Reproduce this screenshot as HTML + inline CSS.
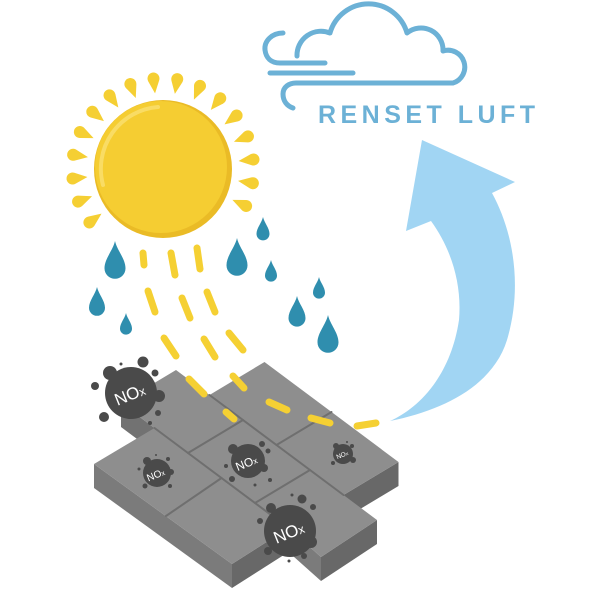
<!DOCTYPE html>
<html><head><meta charset="utf-8"><style>
html,body{margin:0;padding:0;background:#fff;}
svg{display:block;}
</style></head><body>
<svg width="600" height="600" viewBox="0 0 600 600" xmlns="http://www.w3.org/2000/svg">
<defs>
<path id="ray" d="M-11,0 L1.6,-5.5 A6,6 0 1 1 1.6,5.5 Z"/>
<path id="drop" d="M0,0 C0.1,0.45 0.5,0.85 0.5,1.3 A0.5,0.5 0 0 1 -0.5,1.3 C-0.5,0.85 -0.1,0.45 0,0 Z"/>
</defs>
<rect width="600" height="600" fill="#fff"/>

<!-- cloud -->
<g fill="none" stroke="#6cb1d6" stroke-width="5" stroke-linecap="round" stroke-linejoin="round">
<path d="M297,56 A24,24 0 0 1 330,33 A40,40 0 0 1 407,33 A22,22 0 0 1 443,51 A16,16 0 1 1 453,83 L296,83 C289,83 283,87 283,94 C283,101 287,106 293,108"/>
<path d="M283,33 C272,33 264,41 265,50 C266,58 271,63 280,63 L325,63"/>
<path d="M270,73 L353,73"/>
</g>
<text x="318" y="123" font-family="Liberation Sans, sans-serif" font-weight="bold" font-size="25" fill="#6cb1d6" textLength="217" lengthAdjust="spacing">RENSET LUFT</text>

<!-- sun rays -->
<g fill="#f5cf33">
<use href="#ray" transform="translate(163 169) rotate(144) translate(87 0)"/>
<use href="#ray" transform="translate(163 169) rotate(159) translate(87 0)"/>
<use href="#ray" transform="translate(163 169) rotate(174) translate(87 0)"/>
<use href="#ray" transform="translate(163 169) rotate(189) translate(87 0)"/>
<use href="#ray" transform="translate(163 169) rotate(204) translate(87 0)"/>
<use href="#ray" transform="translate(163 169) rotate(219) translate(87 0)"/>
<use href="#ray" transform="translate(163 169) rotate(234) translate(87 0)"/>
<use href="#ray" transform="translate(163 169) rotate(249) translate(87 0)"/>
<use href="#ray" transform="translate(163 169) rotate(264) translate(87 0)"/>
<use href="#ray" transform="translate(163 169) rotate(279) translate(87 0)"/>
<use href="#ray" transform="translate(163 169) rotate(294) translate(87 0)"/>
<use href="#ray" transform="translate(163 169) rotate(309) translate(87 0)"/>
<use href="#ray" transform="translate(163 169) rotate(324) translate(87 0)"/>
<use href="#ray" transform="translate(163 169) rotate(339) translate(87 0)"/>
<use href="#ray" transform="translate(163 169) rotate(354) translate(87 0)"/>
<use href="#ray" transform="translate(163 169) rotate(369) translate(87 0)"/>
<use href="#ray" transform="translate(163 169) rotate(384) translate(87 0)"/>
</g>
<!-- sun -->
<circle cx="163" cy="169" r="69" fill="#eabb26"/>
<circle cx="161" cy="167" r="66" fill="#f5cd32"/>
<path d="M103,185 A62,62 0 0 1 158,107" fill="none" stroke="#f9dc64" stroke-width="4" stroke-linecap="round"/>

<!-- rain drops -->
<g fill="#2f8eae">
<use href="#drop" transform="translate(115 241) scale(21)"/>
<use href="#drop" transform="translate(97 287) scale(16)"/>
<use href="#drop" transform="translate(126 313) scale(12)"/>
<use href="#drop" transform="translate(237 238) scale(21)"/>
<use href="#drop" transform="translate(263 217) scale(13)"/>
<use href="#drop" transform="translate(271 260) scale(12)"/>
<use href="#drop" transform="translate(319 277) scale(12)"/>
<use href="#drop" transform="translate(297 296) scale(17)"/>
<use href="#drop" transform="translate(328 315) scale(21)"/>
</g>

<!-- pavement side faces -->
<polygon points="94,464 232,564 232,588 94,488" fill="#7b7b7b"/>
<polygon points="121,403 154.5,428 154.5,452 121,427" fill="#727272"/>
<polygon points="288.5,528 321,557 321,581 288.5,552" fill="#7b7b7b"/>
<polygon points="232,564 288.5,528 288.5,552 232,588" fill="#686868"/>
<polygon points="321,557 377,520 377,544 321,581" fill="#686868"/>
<polygon points="343.5,495 398.5,462 398.5,486 343.5,519" fill="#686868"/>
<!-- pavement top -->
<polygon points="121,403 176,370 209.5,395 264.5,362 398.5,462 343.5,495 377,520 321,557 288.5,528 232,564 94,464 154.5,428" fill="#8e8e8e"/>
<g stroke="#6f6f6f" stroke-width="2" fill="none" stroke-linecap="round">
<line x1="154.5" y1="428" x2="288.5" y2="528"/>
<line x1="209.5" y1="395" x2="343.5" y2="495"/>
<line x1="166" y1="516" x2="221.5" y2="478"/>
<line x1="188" y1="453" x2="243" y2="420"/>
<line x1="255" y1="503" x2="310" y2="470"/>
<line x1="276.5" y1="445" x2="331.5" y2="412"/>
</g>

<!-- NOx blobs -->
<g fill="#4a4a4a">
<circle cx="131" cy="393" r="26"/>
<circle cx="143" cy="362" r="5.5"/><circle cx="155" cy="373" r="3.5"/><circle cx="110" cy="373" r="7"/>
<circle cx="159" cy="396" r="6"/><circle cx="95" cy="386" r="4"/><circle cx="104" cy="417" r="5"/>
<circle cx="158" cy="413" r="3"/><circle cx="121" cy="364" r="1.5"/><circle cx="150" cy="423" r="2"/>

<circle cx="157" cy="473" r="14"/>
<circle cx="147" cy="461" r="4"/><circle cx="168" cy="459" r="2"/><circle cx="171" cy="472" r="3"/>
<circle cx="145" cy="486" r="2.5"/><circle cx="170" cy="486" r="2"/><circle cx="139" cy="469" r="1.5"/><circle cx="156" cy="455" r="1"/>

<circle cx="248" cy="461" r="17"/>
<circle cx="262" cy="444" r="3"/><circle cx="268" cy="451" r="2.5"/><circle cx="233" cy="449" r="5"/>
<circle cx="226" cy="466" r="2"/><circle cx="232" cy="479" r="3"/><circle cx="264" cy="468" r="4"/>
<circle cx="255" cy="485" r="1.5"/><circle cx="270" cy="480" r="2"/>

<circle cx="343" cy="454" r="10"/>
<circle cx="336" cy="446" r="3"/><circle cx="352" cy="446" r="2"/><circle cx="333" cy="463" r="2"/>
<circle cx="353" cy="460" r="3"/><circle cx="347" cy="442" r="1"/>

<circle cx="290" cy="531" r="26"/>
<circle cx="302" cy="499" r="4.5"/><circle cx="313" cy="507" r="3"/><circle cx="271" cy="508" r="5"/>
<circle cx="260" cy="521" r="3"/><circle cx="311" cy="542" r="6"/><circle cx="268" cy="551" r="4"/>
<circle cx="304" cy="556" r="3"/><circle cx="289" cy="561" r="1.5"/><circle cx="292" cy="495" r="1.5"/>
</g>
<g fill="#fff" font-family="Liberation Sans, sans-serif">
<text transform="translate(132 400) rotate(-22)" font-size="17" text-anchor="middle">NO<tspan font-size="12">x</tspan></text>
<text transform="translate(157 478) rotate(-22)" font-size="10" text-anchor="middle">NO<tspan font-size="7">x</tspan></text>
<text transform="translate(248 467) rotate(-22)" font-size="12" text-anchor="middle">NO<tspan font-size="8.5">x</tspan></text>
<text transform="translate(343 457) rotate(-22)" font-size="6.5" text-anchor="middle">NO<tspan font-size="5">x</tspan></text>
<text transform="translate(291 538) rotate(-22)" font-size="17" text-anchor="middle">NO<tspan font-size="12">x</tspan></text>
</g>

<!-- sunlight dashes -->
<g stroke="#f5d033" stroke-width="7" stroke-linecap="round" fill="none">
<line x1="143" y1="253" x2="144" y2="265"/>
<line x1="171" y1="253" x2="175" y2="275"/>
<line x1="197" y1="248" x2="200" y2="269"/>
<line x1="148" y1="291" x2="155" y2="312"/>
<line x1="182" y1="298" x2="190" y2="318"/>
<line x1="207" y1="292" x2="215" y2="312"/>
<line x1="164" y1="338" x2="176" y2="356"/>
<line x1="204" y1="339" x2="215" y2="357"/>
<line x1="229" y1="333" x2="243" y2="350"/>
<line x1="189" y1="379" x2="204" y2="394"/>
<line x1="233" y1="376" x2="244" y2="388"/>
<line x1="226" y1="412" x2="234" y2="419"/>
<line x1="269" y1="402" x2="287" y2="410"/>
<line x1="311" y1="418" x2="330" y2="423"/>
<line x1="357" y1="426" x2="376" y2="423"/>
</g>

<!-- arrow -->
<path d="M422,140 L515,182 L492,193 C515,235 522,290 507,340 C493,385 445,410 390,421 C415,410 450,380 459,320 C462,285 452,250 431,221 L406,231 Z" fill="#a1d5f3"/>
</svg>
</body></html>
